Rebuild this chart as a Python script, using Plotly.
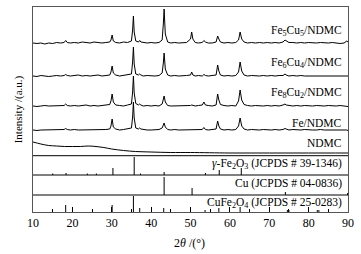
import plotly.graph_objects as go

# ---- shared 2theta grid for the measured patterns (deg) ----
two_theta = [
    10, 11, 12, 13, 14, 15, 16, 17, 17.9, 18.3,
    18.7, 19.5, 20.5, 21.5, 22.5, 23.5, 24.5, 25.5, 26.5, 27.5,
    28.5, 29.5, 29.8, 30.1, 30.4, 31, 32, 33, 34, 35,
    35.3, 35.5, 35.7, 36.1, 36.8, 37.1, 37.4, 38, 39, 40,
    41, 42, 42.8, 43.1, 43.3, 43.6, 44.2, 45, 46, 47,
    48, 49, 50.0, 50.3, 50.6, 51.2, 52, 53, 53.4, 53.8,
    54.5, 55.5, 56.5, 56.9, 57.2, 57.6, 58.5, 59.5, 60.5, 61.5,
    62.2, 62.6, 63.0, 63.6, 64.5, 65.5, 66.5, 67.5, 68.5, 69.5,
    70.5, 71.5, 72.5, 73.5, 74.0, 74.3, 75, 76, 77, 78,
    79, 80, 81, 82, 83, 84, 85, 86, 87, 88,
    89, 89.7, 90,
]

# ---- intensities (a.u., relative to each pattern's own baseline) ----
fe5cu5 = [
    1, 0.5, 1, 0, 1, 0.5, 1.5, 1, 1.5, 3.5,
    1.5, 1, 1.5, 1, 2, 1.5, 1, 2, 1.5, 1,
    1.5, 2, 4, 9, 3, 1.5, 1, 2, 1.5, 3,
    14, 28, 12, 3, 2, 3.5, 2, 1.5, 1, 1.5,
    1, 1.5, 4, 20, 35, 10, 2, 1, 1.5, 1,
    1, 1.5, 5, 12, 5, 1.5, 1, 1.5, 3.5, 2,
    1, 1, 2, 8, 5, 2, 1, 1.5, 1, 1.5,
    4, 12, 5, 2, 1, 1.5, 1, 1.5, 1, 1.5,
    1, 1.5, 1, 2, 4, 3, 1.5, 1.5, 1, 1.5,
    1, 1.5, 1, 1, 1.5, 1, 1, 1.5, 1, 0.5,
    1, 3, 2,
]
fe6cu4 = [
    1, 0.5, 1.5, 1, 0.5, 1, 1.5, 1, 1.5, 2.5,
    1.5, 1, 1.5, 2, 1, 1.5, 1, 1.5, 2, 1,
    1.5, 2, 5, 11, 4, 2, 1, 1.5, 2, 3,
    15, 30, 13, 3, 2, 3, 2, 1, 1.5, 1,
    1, 1.5, 4, 14, 24, 8, 2, 1, 1.5, 1,
    1, 1.5, 2, 5, 2, 1, 1.5, 1, 2.5, 1.5,
    1, 1.5, 2, 12, 6, 2, 1, 1.5, 1, 1.5,
    5, 15, 6, 2, 1, 1.5, 1, 1, 1.5, 1,
    1.5, 1, 1.5, 1.5, 3, 2, 1, 1.5, 1, 1.5,
    1, 1, 1.5, 1, 1, 1.5, 1, 1, 1.5, 1,
    1, 1.5, 1,
]
fe8cu2 = [
    1, 0.5, 1, 1.5, 1, 1, 1.5, 1, 1.5, 3,
    1.5, 1, 1.5, 1, 1.5, 2, 1, 1.5, 1, 1.5,
    2, 2.5, 6, 13, 5, 2, 1.5, 1, 2, 3,
    15, 31, 14, 3.5, 2, 3, 2, 1, 1.5, 1,
    1.5, 1, 3, 8, 11, 5, 1.5, 1, 1, 1.5,
    1, 1.5, 1.5, 2, 1.5, 1, 1.5, 2, 5, 2,
    1.5, 1, 2, 13, 7, 2.5, 1.5, 1, 1.5, 1,
    6, 17, 7, 2.5, 1.5, 1, 1.5, 1, 1, 1.5,
    1, 1.5, 1, 2, 3, 2, 1.5, 1, 1.5, 1,
    1.5, 1, 1, 1.5, 1, 1, 1.5, 1, 1, 1.5,
    1, 1, 0.5,
]
fe_ndmc = [
    1, 0.5, 1, 1, 1.5, 1, 1, 1.5, 1.5, 2.5,
    1.5, 1, 1.5, 1, 1, 1.5, 1, 1.5, 1, 1.5,
    1.5, 2, 5, 12, 4, 2, 1, 1.5, 2, 3,
    14, 29, 13, 3, 2, 3, 2, 1.5, 1, 1,
    1, 1.5, 3, 6, 8, 4, 1.5, 1, 1.5, 1,
    1, 1, 1.5, 1.5, 1.5, 1, 1, 1.5, 3.5, 1.5,
    1, 1.5, 2, 10, 5, 2, 1, 1.5, 1, 1.5,
    5, 13, 5, 2, 1, 1.5, 1, 1, 1.5, 1,
    1, 1.5, 1, 1.5, 2.5, 2, 1, 1.5, 1, 1,
    1.5, 1, 1, 1, 1.5, 1, 1, 1, 1.5, 1,
    1, 1, 0.5,
]

# NDMC (amorphous carbon) pattern
ndmc_theta = [10, 12, 14, 16, 18, 20, 22, 24, 26, 28, 30, 33, 36, 40, 45, 50, 60, 70, 80, 90]
ndmc = [11, 9, 7.5, 7, 6.5, 6.5, 6.5, 7, 6.5, 5.5, 4, 2.5, 1.5, 1, 0.5, 0.5, 0, 0, 0, 0]

pattern_names = ["Fe<sub>5</sub>Cu<sub>5</sub>/NDMC", "Fe<sub>6</sub>Cu<sub>4</sub>/NDMC",
                 "Fe<sub>8</sub>Cu<sub>2</sub>/NDMC", "Fe/NDMC", "NDMC"]
pattern_offsets = [168, 135, 105, 81, 59]

# ---- standard cards (stick patterns) ----
gfe2o3_pos = [15.0, 18.4, 23.8, 26.1, 30.3, 35.7, 37.3, 43.3, 53.8, 57.3, 62.9]
gfe2o3_int = [1.5, 2, 1.5, 1.5, 7, 18, 1.5, 3, 2, 5, 7]
cu_pos = [43.3, 50.4, 74.1, 89.9]
cu_int = [18, 7, 3, 2]
cufe2o4_pos = [18.3, 30.1, 35.5, 37.1, 43.2, 53.7, 57.2, 62.6, 74.6, 75.0, 82.2, 82.6]
cufe2o4_int = [7, 7, 16, 4, 4, 2, 4, 5, 2, 2, 2, 2]
card_names = ["<i>γ</i>-Fe<sub>2</sub>O<sub>3</sub> (JCPDS # 39-1346)",
              "Cu (JCPDS # 04-0836)",
              "CuFe<sub>2</sub>O<sub>4</sub> (JCPDS # 25-0283)"]
card_bases = [37, 17, 0]
panel_top = 56.3

FONT = "Liberation Serif, Times New Roman, serif"
fig = go.Figure()

patterns = [fe5cu5, fe6cu4, fe8cu2, fe_ndmc]
for vals, off in zip(patterns, pattern_offsets[:4]):
    fig.add_trace(go.Scatter(x=two_theta, y=[v + off for v in vals], mode="lines",
                             line=dict(color="black", width=1), showlegend=False))
fig.add_trace(go.Scatter(x=ndmc_theta, y=[v + pattern_offsets[4] for v in ndmc], mode="lines",
                         line=dict(color="black", width=1, shape="spline"), showlegend=False))

cards = [(gfe2o3_pos, gfe2o3_int), (cu_pos, cu_int), (cufe2o4_pos, cufe2o4_int)]
for (pos, inten), base in zip(cards, card_bases):
    xs, ys = [], []
    for p, h in zip(pos, inten):
        xs += [p, p, None]
        ys += [base, base + h, None]
    fig.add_trace(go.Scatter(x=xs, y=ys, mode="lines", line=dict(color="black", width=1),
                             showlegend=False))

# separators of the card panels
for yy in [panel_top] + card_bases[:2]:
    fig.add_shape(type="line", x0=10, x1=90, y0=yy, y1=yy, line=dict(color="black", width=1))

label_y = [181, 149, 119, 89.5, 69.5]
for name, yy in zip(pattern_names, label_y):
    fig.add_annotation(x=88.9, y=yy, text=name, showarrow=False, xanchor="right",
                       yanchor="middle", font=dict(family=FONT, size=11.5, color="black"))
card_label_y = [48, 29, 9]
for name, yy in zip(card_names, card_label_y):
    fig.add_annotation(x=88.9, y=yy, text=name, showarrow=False, xanchor="right",
                       yanchor="middle", font=dict(family=FONT, size=11.5, color="black"))

fig.add_annotation(x=-0.072, y=0.5, xref="paper", yref="paper", text="Intensity /(a.u.)",
                   textangle=-90, showarrow=False, font=dict(family=FONT, size=11, color="black"))
fig.add_annotation(x=0.498, y=-0.151, xref="paper", yref="paper", text="2<i>θ</i> /(°)",
                   yanchor="middle", showarrow=False, font=dict(family=FONT, size=12, color="black"))

fig.update_layout(
    width=361, height=254, margin=dict(l=33, r=13, t=7, b=42),
    paper_bgcolor="white", plot_bgcolor="white",
    font=dict(family=FONT, size=12, color="black"),
    xaxis=dict(range=[10, 90], tickvals=[10, 20, 30, 40, 50, 60, 70, 80, 90],
               ticks="inside", ticklen=5, tickcolor="black", showgrid=False, zeroline=False,
               showline=True, linecolor="#555", mirror=True, linewidth=1,
               minor=dict(dtick=5, tick0=10, ticks="inside", ticklen=3, tickcolor="black"),
               tickfont=dict(family=FONT, size=12, color="black")),
    yaxis=dict(range=[0, 205], showticklabels=False, ticks="", showgrid=False, zeroline=False,
               showline=True, linecolor="#555", mirror=True, linewidth=1),
)

fig.write_html("out.html", config={"displayModeBar": False},
               post_script="document.body.style.margin='0';document.body.style.overflow='hidden';")
